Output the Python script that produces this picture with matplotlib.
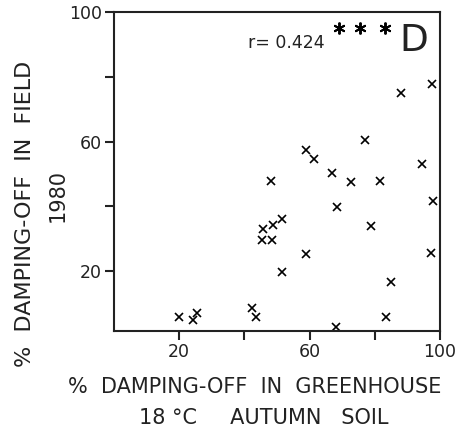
import matplotlib.pyplot as plt

# === data ===
greenhouse = [20.0, 24.3, 25.5, 42.2, 43.4, 45.5, 48.6, 45.8, 48.9, 51.4,
              51.4, 59.0, 48.3, 59.0, 61.3, 67.0, 68.3, 68.0, 72.6, 76.9,
              78.8, 81.5, 83.4, 84.9, 88.0, 94.5, 97.2, 97.8, 97.5]
field = [5.9, 4.9, 7.1, 8.6, 5.9, 29.6, 29.6, 33.0, 34.3, 36.1,
         19.8, 25.3, 47.8, 57.4, 54.6, 50.3, 39.8, 2.8, 47.5, 60.5,
         34.0, 47.8, 5.9, 16.7, 75.0, 53.1, 25.6, 41.7, 77.8]
# significance stars drawn at the top
stars_x = [69, 75.5, 83]
stars_y = [95, 95, 95]

fig = plt.figure(figsize=(4.56, 4.29), dpi=100)
ax = fig.add_axes([0.25, 0.228, 0.715, 0.744])

ax.plot(greenhouse, field, linestyle="none", marker="x", color="black",
        markersize=5.5, markeredgewidth=1.2)
ax.plot(stars_x, stars_y, linestyle="none", marker=(6, 2, 0), color="black",
        markersize=8.5, markeredgewidth=1.4, clip_on=False)

ax.set_xlim(0, 100)
ax.set_ylim(1.5, 100)
ax.set_xticks([20, 40, 60, 80, 100])
ax.set_xticklabels(["20", "", "60", "", "100"])
ax.set_yticks([20, 40, 60, 80, 100])
ax.set_yticklabels(["20", "", "60", "", "100"])
ax.tick_params(direction="out", length=6.5, width=1.5, labelsize=12.5,
               colors="#222222", pad=2)
for s in ax.spines.values():
    s.set_linewidth(1.5)
    s.set_color("#222222")

ax.text(41, 90.5, "r= 0.424", fontsize=12.5, va="center", ha="left",
        color="#222222")
ax.text(96.5, 91, "D", fontsize=27, va="center", ha="right", color="#222222")

fig.text(0.558, 0.098, "%  DAMPING-OFF  IN  GREENHOUSE", fontsize=15,
         ha="center", va="center", color="#222222")
fig.text(0.578, 0.026, "18 °C     AUTUMN   SOIL", fontsize=15,
         ha="center", va="center", color="#222222")
fig.text(0.055, 0.502, "%  DAMPING-OFF  IN  FIELD", fontsize=16, rotation=90,
         ha="center", va="center", color="#222222")
fig.text(0.127, 0.545, "1980", fontsize=15, rotation=90,
         ha="center", va="center", color="#222222")

fig.savefig("out.png", dpi=100, facecolor="white")
